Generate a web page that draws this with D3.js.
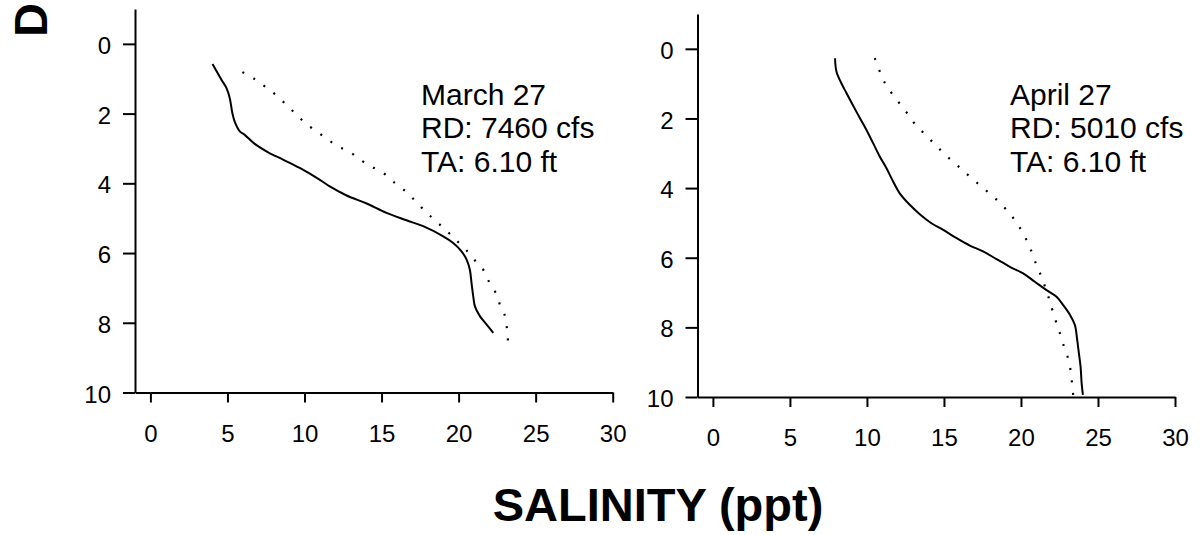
<!DOCTYPE html>
<html lang="en">
  <head>
    <meta charset="UTF-8" />
    <title>Salinity profiles</title>
    <style type="text/css">
      body {
        margin: 0;
        background: #ffffff;
        color: #000000;
        font-family: "Liberation Sans", Arial, Helvetica, sans-serif;
      }

      svg {
        display: block;
      }

      .axis path,
      .axis line {
        stroke: #000000;
        stroke-width: 2px;
      }

      .axis text {
        font-family: "Liberation Sans", Arial, sans-serif;
        font-size: 24px;
        fill: #000000;
      }

      .note {
        font-size: 30px;
      }

      .title {
        font-size: 47px;
        font-weight: bold;
      }
    </style>
  </head>
  <body>
    <script src="https://d3js.org/d3.v7.min.js"></script>
    <script>
      // March 27 profile
      var marchSolidSal = [4.03, 4.61, 4.94, 5.15, 5.32, 5.47, 5.8, 6.12, 6.77, 7.64, 8.61, 9.69, 11.0, 11.64, 12.73, 14.03, 15.32, 16.62, 17.7, 19.0, 19.65, 20.19, 20.52, 20.73, 20.84, 20.95, 21.06, 21.38, 21.82, 22.25];
      var marchSolidDepth = [0.58, 1.03, 1.27, 1.56, 1.99, 2.23, 2.51, 2.61, 2.87, 3.11, 3.32, 3.56, 3.9, 4.09, 4.35, 4.58, 4.85, 5.06, 5.23, 5.52, 5.71, 5.95, 6.19, 6.48, 6.86, 7.24, 7.53, 7.81, 8.05, 8.29];
      var marchDotSal = [5.97, 6.77, 7.42, 8.07, 8.83, 9.48, 10.13, 10.88, 11.53, 12.18, 12.94, 13.7, 14.35, 15.1, 15.75, 16.51, 17.16, 17.81, 18.46, 19.22, 19.87, 20.52, 21.17, 21.71, 22.03, 22.47, 22.68, 23.0, 23.12, 23.18, 23.26];
      var marchDotDepth = [0.81, 1.01, 1.22, 1.44, 1.75, 2.03, 2.3, 2.54, 2.75, 2.94, 3.1, 3.35, 3.52, 3.7, 3.95, 4.21, 4.49, 4.79, 5.06, 5.36, 5.64, 5.93, 6.27, 6.55, 6.88, 7.19, 7.48, 7.79, 8.1, 8.4, 8.74];

      // April 27 profile
      var aprilSolidSal = [7.93, 8.02, 8.34, 8.67, 9.1, 9.53, 9.97, 10.4, 10.83, 11.27, 11.7, 12.13, 12.78, 13.43, 14.19, 14.95, 15.82, 16.68, 17.54, 18.41, 19.28, 20.14, 20.9, 21.66, 22.31, 22.74, 23.18, 23.5, 23.65, 23.76, 23.87, 23.94, 24.02];
      var aprilSolidDepth = [0.27, 0.65, 0.99, 1.27, 1.63, 1.98, 2.33, 2.71, 3.09, 3.43, 3.81, 4.15, 4.48, 4.75, 5.01, 5.2, 5.44, 5.65, 5.82, 6.04, 6.26, 6.45, 6.69, 6.93, 7.12, 7.36, 7.64, 7.93, 8.36, 8.74, 9.13, 9.61, 9.94];
      var aprilDotSal = [10.51, 10.79, 11.09, 11.53, 12.07, 12.61, 13.11, 13.8, 14.45, 15.1, 15.82, 16.47, 17.18, 17.87, 18.56, 19.21, 19.71, 20.14, 20.51, 20.79, 21.05, 21.34, 21.81, 22.2, 22.46, 22.68, 22.96, 23.18, 23.29, 23.39];
      var aprilDotDepth = [0.27, 0.6, 0.92, 1.23, 1.54, 1.85, 2.16, 2.47, 2.76, 3.05, 3.33, 3.59, 3.86, 4.12, 4.39, 4.7, 4.99, 5.3, 5.63, 5.95, 6.26, 6.56, 7.16, 7.74, 8.07, 8.41, 8.74, 9.13, 9.51, 9.94];

      var salTicks = [0, 5, 10, 15, 20, 25, 30];
      var depthTicks = [0, 2, 4, 6, 8, 10];
      var marchNote = ["March 27", "RD: 7460 cfs", "TA: 6.10 ft"];
      var aprilNote = ["April 27", "RD: 5010 cfs", "TA: 6.10 ft"];

      var width = 1202;
      var height = 535;

      var svg = d3
        .select("body")
        .append("svg")
        .attr("width", width)
        .attr("height", height);

      var panels = [
        {
          left: 135, right: 612.7, top: 9, bottom: 392.5,
          solid: d3.zip(marchSolidSal, marchSolidDepth),
          dots: d3.zip(marchDotSal, marchDotDepth),
          note: marchNote, noteX: 421,
        },
        {
          left: 697.5, right: 1175, top: 14, bottom: 397,
          solid: d3.zip(aprilSolidSal, aprilSolidDepth),
          dots: d3.zip(aprilDotSal, aprilDotDepth),
          note: aprilNote, noteX: 1010,
        },
      ];

      panels.forEach((p) => {
        var x = d3.scaleLinear().domain([-1, 30]).range([p.left, p.right]);
        var y = d3.scaleLinear().domain([-1, 10]).range([p.top, p.bottom]);

        var line = d3
          .line()
          .curve(d3.curveCatmullRom.alpha(0.5))
          .x((d) => x(d[0]))
          .y((d) => y(d[1]));

        var g = svg.append("g");

        g.append("g")
          .attr("class", "axis")
          .attr("transform", `translate(${p.left},0)`)
          .call(
            d3.axisLeft(y).tickValues(depthTicks).tickSize(12).tickSizeOuter(0).tickPadding(12)
          )
          .selectAll("text")
          .attr("dy", "0.4em");

        g.append("g")
          .attr("class", "axis")
          .attr("transform", `translate(0,${p.bottom})`)
          .call(
            d3.axisBottom(x).tickValues(salTicks).tickSize(10).tickSizeOuter(0).tickPadding(22)
          );

        g.append("path")
          .attr("fill", "none")
          .attr("stroke", "#000")
          .attr("stroke-width", 2)
          .attr("d", line(p.solid));

        g.append("path")
          .attr("fill", "none")
          .attr("stroke", "#000")
          .attr("stroke-width", 2.2)
          .attr("stroke-dasharray", "2 10.5")
          .attr("d", line(p.dots));

        g.append("text")
          .attr("class", "note")
          .selectAll("tspan")
          .data(p.note)
          .join("tspan")
          .attr("x", p.noteX)
          .attr("y", (d, i) => 105 + i * 33.4)
          .text((d) => d);
      });

      svg
        .append("text")
        .attr("class", "title")
        .attr("x", 658)
        .attr("y", 521)
        .attr("text-anchor", "middle")
        .text("SALINITY (ppt)");

      // the depth title runs off the top edge, as in the source figure
      svg
        .append("text")
        .attr("class", "title")
        .attr("transform", "translate(47,37) rotate(-90)")
        .text("DEPTH (ft)");
    </script>
  </body>
</html>
